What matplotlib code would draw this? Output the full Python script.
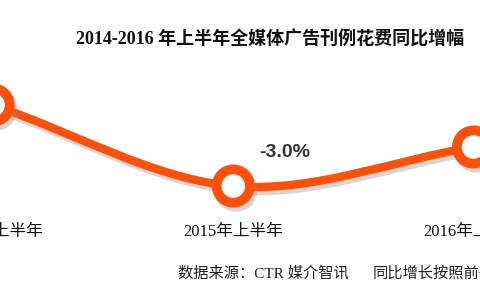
import numpy as np
import matplotlib
matplotlib.use("Agg")
import matplotlib.pyplot as plt
import matplotlib.patheffects as pe
from matplotlib.path import Path
from matplotlib.patches import PathPatch

# --- data ---
categories = ["2014年上半年", "2015年上半年", "2016年上半年"]
growth = [5.1, -3.0, 0.9]          # % year-on-year
shown_labels = {1: "-3.0%"}       # only this value label is visible in the crop

title = "2014-2016 年上半年全媒体广告刊例花费同比增幅"
source_text = "数据来源：CTR 媒介智讯"
note_text = "同比增长按照前一年同期刊例花费计算"

ORANGE = "#FF500A"
SERIF_CJK = ["Liberation Serif", "Noto Sans CJK SC"]

fig = plt.figure(figsize=(4.8, 3.0), dpi=100)
ax = fig.add_axes([0, 0, 1, 1])
ax.set_xlim(0.029, 2.027)
ax.set_ylim(-14.4, 15.6)
ax.axis("off")

# smooth (Catmull-Rom style) curve through the points, drawn as bezier path
xs = np.arange(len(growth), dtype=float)
ys = np.array(growth, dtype=float)
pts = np.column_stack([xs, ys])
tang = np.zeros_like(pts)
tang[0] = pts[1] - pts[0]
tang[-1] = pts[-1] - pts[-2]
for i in range(1, len(pts) - 1):
    tang[i] = (pts[i + 1] - pts[i - 1]) / 2
verts = [pts[0]]
codes = [Path.MOVETO]
for i in range(len(pts) - 1):
    verts += [pts[i] + tang[i] / 3, pts[i + 1] - tang[i + 1] / 3, pts[i + 1]]
    codes += [Path.CURVE4] * 3

shadow = [pe.Stroke(offset=(2, -3), foreground="0.55", alpha=0.35), pe.Normal()]
curve = PathPatch(Path(verts, codes), fill=False, edgecolor=ORANGE, lw=6,
                  capstyle="round", zorder=2)
curve.set_path_effects(shadow)
ax.add_patch(curve)

ax.plot(xs, ys, linestyle="none", marker="o", markersize=24,
        markerfacecolor="white", markeredgecolor=ORANGE, markeredgewidth=7,
        zorder=3,
        path_effects=[pe.SimpleLineShadow(offset=(2, -3), shadow_color="0.55",
                                          alpha=0.35), pe.Normal()])

for i, lab in shown_labels.items():
    ax.annotate(lab, (xs[i], ys[i]), xytext=(37, 24), textcoords="offset points",
                ha="center", va="center", fontsize=14, fontweight="bold",
                family="Liberation Sans", color="#333333")

# category labels under the points
for x, c in zip(xs, categories):
    ax.text(x, -7.6, c, ha="center", va="center", fontsize=12,
            family=SERIF_CJK, color="#111111")

fig.text(270 / 480, 1 - 40 / 300, title, ha="center", va="center",
         fontsize=13, fontweight="bold", family=SERIF_CJK, color="#111111")
fig.text(178 / 480, 1 - 273 / 300, source_text, ha="left", va="center",
         fontsize=11, family=SERIF_CJK, color="#222222")
fig.text(373 / 480, 1 - 273 / 300, note_text, ha="left", va="center",
         fontsize=11, family=SERIF_CJK, color="#222222")

fig.savefig("out.png", dpi=100, facecolor="white")
